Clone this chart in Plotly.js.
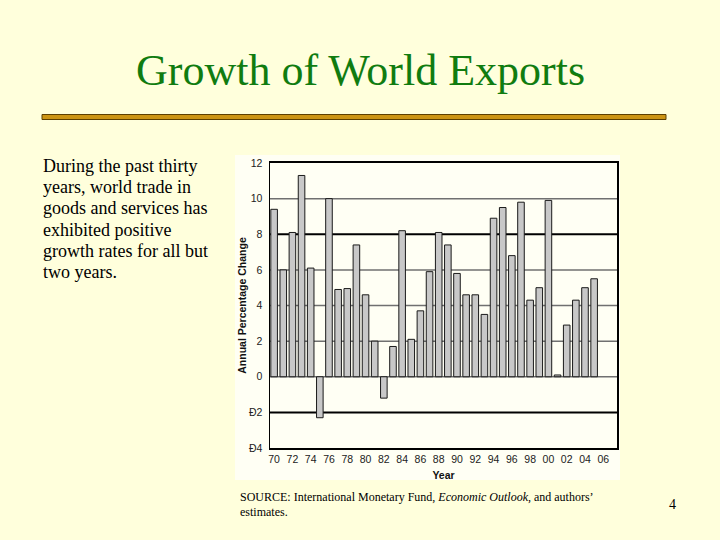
<!DOCTYPE html>
<html>
<head>
<meta charset="utf-8">
<script src="https://cdn.plot.ly/plotly-3.0.1.min.js"></script>
<style>
  html, body { margin: 0; padding: 0; background: #FFFFDC; }
  #chart { width: 720px; height: 540px; }
</style>
</head>
<body>
<div id="chart"></div>
<script>
// ---- Data ----
const years = [1970,1971,1972,1973,1974,1975,1976,1977,1978,1979,1980,1981,1982,1983,1984,1985,1986,1987,
               1988,1989,1990,1991,1992,1993,1994,1995,1996,1997,1998,1999,2000,2001,2002,2003,2004,2005];
const growth = [9.4, 6.0, 8.1, 11.3, 6.1, -2.3, 10.0, 4.9, 4.95, 7.4, 4.6, 2.0, -1.2, 1.7, 8.2, 2.1, 3.7, 5.9,
                8.1, 7.4, 5.8, 4.6, 4.6, 3.5, 8.9, 9.5, 6.8, 9.8, 4.3, 5.0, 9.9, 0.1, 2.9, 4.3, 5.0, 5.5];
const xTickVals = [1970,1972,1974,1976,1978,1980,1982,1984,1986,1988,1990,1992,1994,1996,1998,2000,2002,2004,2006];
const xTickText = ["70","72","74","76","78","80","82","84","86","88","90","92","94","96","98","00","02","04","06"];
const yTickVals = [12,10,8,6,4,2,0,-2,-4];
const yTickText = ["12","10","8","6","4","2","0","Ð2","Ð4"];
const grayGrid = [10,6,4,2,0];
const blackGrid = [8,-2];

// ---- Layout geometry (pixels) ----
const W = 720, H = 540;
const M = {l: 270, r: 103, t: 163, b: 92};
const PW = W - M.l - M.r, PH = H - M.t - M.b;
const px = x => (x - M.l) / PW;
const py = y => (H - M.b - y) / PH;

const serif = "Liberation Serif";
const sans = "Liberation Sans";

function ann(text, x, y, size, opts) {
  return Object.assign({
    text: text, xref: 'paper', yref: 'paper', x: px(x), y: py(y),
    xanchor: 'left', yanchor: 'middle', showarrow: false,
    font: {family: serif, size: size, color: '#000'}
  }, opts || {});
}

const bodyLines = ["During the past thirty", "years, world trade in", "goods and services has",
                   "exhibited positive", "growth rates for all but", "two years."];
const annotations = [
  ann("Growth of World Exports", 360, 70, 44, {xanchor: 'center', font: {family: serif, size: 44, color: '#107C10'}}),
  ann("SOURCE: International Monetary Fund, <i>Economic Outlook</i>, and authors’", 238, 497, 12),
  ann("estimates.", 238, 512, 12),
  ann("4", 672, 504, 14, {xanchor: 'center'})
];
bodyLines.forEach((t, i) => annotations.push(ann(t, 41, 166 + i * 21.2, 18)));

const shapes = [
  // chart panel background
  {type: 'rect', xref: 'paper', yref: 'paper', x0: px(235), x1: px(620), y0: py(155), y1: py(480),
   fillcolor: '#FFFFF4', line: {width: 0}, layer: 'below'},
  // gold rule
  {type: 'rect', xref: 'paper', yref: 'paper', x0: px(42), x1: px(666), y0: py(114.5), y1: py(119.5),
   fillcolor: '#CC9414', line: {color: '#5C3F00', width: 1}, layer: 'below'}
];
// horizontal reference lines, kept beneath the bars
grayGrid.forEach(v => shapes.push({type: 'line', xref: 'paper', yref: 'y', x0: 0, x1: 1, y0: v, y1: v,
  line: {color: '#707070', width: 1.5}, layer: 'below'}));
blackGrid.forEach(v => shapes.push({type: 'line', xref: 'paper', yref: 'y', x0: 0, x1: 1, y0: v, y1: v,
  line: {color: '#000000', width: 2}, layer: 'below'}));

const trace = {
  type: 'bar', x: years, y: growth, width: 0.72,
  marker: {color: '#C8C8C8', line: {color: '#1A1A1A', width: 1}},
  hoverinfo: 'x+y'
};

const layout = {
  width: W, height: H, margin: M,
  paper_bgcolor: '#FFFFDC', plot_bgcolor: 'rgba(0,0,0,0)',
  showlegend: false, bargap: 0,
  xaxis: {
    range: [1969.55, 2007.5], tickvals: xTickVals, ticktext: xTickText,
    showgrid: false, zeroline: false, showline: true, mirror: true,
    linecolor: '#000', linewidth: 2, ticks: '',
    tickfont: {family: sans, size: 10.5, color: '#222'},
    title: {text: '<b>Year</b>', font: {family: sans, size: 10.5, color: '#111'}, standoff: 8}
  },
  yaxis: {
    range: [-4, 12], tickvals: yTickVals, ticktext: yTickText,
    showgrid: false, zeroline: false, showline: true, mirror: true,
    linecolor: '#000', linewidth: 1.5, ticks: '', ticklabelstandoff: 4,
    tickfont: {family: sans, size: 10.5, color: '#222'},
    title: {text: '<b>Annual Percentage Change</b>', font: {family: sans, size: 10.5, color: '#111'}, standoff: 0}
  },
  shapes: shapes, annotations: annotations
};

Plotly.newPlot('chart', [trace], layout, {displayModeBar: false, staticPlot: true});
</script>
</body>
</html>
